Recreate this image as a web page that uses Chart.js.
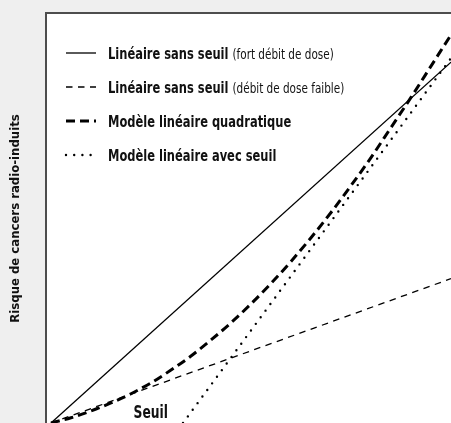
<!DOCTYPE html>
<html>
<head>
<meta charset="utf-8">
<script src="https://cdn.jsdelivr.net/npm/chart.js@4.4.1/dist/chart.umd.min.js"></script>
<style>
  html, body { margin: 0; padding: 0; background: #efefef; }
  #wrap { width: 451px; height: 423px; position: relative; }
</style>
</head>
<body>
<div id="wrap"><canvas id="c" width="451" height="423"></canvas></div>
<script>
// Dose (arbitrary units) and radio-induced cancer risk for each model
const doseLine = [0, 10];
const riskHighRate = [0, 9.0];
const riskLowRate = [0, 3.6];
const doseCurve = [0, 0.5, 1, 1.5, 2, 2.5, 3, 3.5, 4, 4.5, 5, 5.5, 6, 6.5, 7, 7.5, 8, 8.5, 9, 9.5, 10];
const riskLinearQuadratic = [0, 0.13, 0.30, 0.50, 0.73, 1.00, 1.32, 1.67, 2.07, 2.50, 2.97, 3.48, 4.03, 4.62, 5.25, 5.92, 6.62, 7.37, 8.12, 8.90, 9.68];
const doseThreshold = [3.3, 10];
const riskThreshold = [0, 9.1];

// Texts
const seriesNames = ['Linéaire sans seuil', 'Linéaire sans seuil', 'Modèle linéaire quadratique', 'Modèle linéaire avec seuil'];
const seriesNotes = ['(fort débit de dose)', '(débit de dose faible)', '', ''];
const yTitle = 'Risque de cancers radio-induits';
const thresholdLabel = 'Seuil';

const FAMILY = '"DejaVu Sans Condensed", "Liberation Sans Narrow", sans-serif';

const toPoints = (xs, ys) => xs.map((x, i) => ({ x: x, y: ys[i] }));

// Condensed text: draw with a horizontal squeeze, returns drawn width
function squeezedText(ctx, text, x, y, font, sx, align) {
  ctx.save();
  ctx.font = font;
  const w = ctx.measureText(text).width * sx;
  const x0 = align === 'right' ? x - w : x;
  ctx.translate(x0, y);
  ctx.scale(sx, 1);
  ctx.textAlign = 'left';
  ctx.fillText(text, 0, 0);
  ctx.restore();
  return w;
}

// White plotting area with a dark frame on its left and top edges
const framePlugin = {
  id: 'frame',
  beforeDraw(chart) {
    const { ctx, chartArea: a } = chart;
    ctx.save();
    ctx.fillStyle = '#ffffff';
    ctx.fillRect(a.left - 2, a.top - 2, a.right - a.left + 2, a.bottom - a.top + 2);
    ctx.fillStyle = '#4d4d4d';
    ctx.fillRect(a.left - 2, a.top - 2, 2, a.bottom - a.top + 2);
    ctx.fillRect(a.left - 2, a.top - 2, a.right - a.left + 2, 2);
    ctx.restore();
  }
};

// Legend with a bold model name followed by a plain note, plus the "Seuil" marker
const legendPlugin = {
  id: 'modelLegend',
  afterDatasetsDraw(chart, args, opts) {
    const { ctx } = chart;
    ctx.save();
    ctx.fillStyle = '#111';
    ctx.textBaseline = 'alphabetic';
    chart.data.datasets.forEach((ds, i) => {
      const yc = opts.top + i * opts.spacing;
      ctx.beginPath();
      ctx.setLineDash(ds.borderDash || []);
      ctx.lineWidth = ds.borderWidth;
      ctx.lineCap = ds.borderCapStyle || 'butt';
      ctx.strokeStyle = ds.borderColor;
      ctx.moveTo(opts.sampleLeft, yc);
      ctx.lineTo(opts.sampleRight, yc);
      ctx.stroke();
      ctx.setLineDash([]);
      const w = squeezedText(ctx, seriesNames[i], opts.textLeft, yc + 5.5, 'bold 15px ' + FAMILY, 0.85);
      if (seriesNotes[i]) {
        squeezedText(ctx, seriesNotes[i], opts.textLeft + w + 4, yc + 5.5, '14px ' + FAMILY, 0.83);
      }
    });
    const xs = chart.scales.x;
    squeezedText(ctx, thresholdLabel, xs.getPixelForValue(doseThreshold[0]) - 15, chart.chartArea.bottom - 5,
      'bold 18px ' + FAMILY, 0.76, 'right');
    ctx.restore();
  }
};

new Chart(document.getElementById('c'), {
  type: 'line',
  data: {
    datasets: [
      {
        label: seriesNames[0] + ' ' + seriesNotes[0],
        data: toPoints(doseLine, riskHighRate),
        borderColor: '#000', borderWidth: 1.3, pointRadius: 0
      },
      {
        label: seriesNames[1] + ' ' + seriesNotes[1],
        data: toPoints(doseLine, riskLowRate),
        borderColor: '#000', borderWidth: 1.3, borderDash: [6.5, 5.5], pointRadius: 0
      },
      {
        label: seriesNames[2],
        data: toPoints(doseCurve, riskLinearQuadratic),
        borderColor: '#000', borderWidth: 3, borderDash: [9, 5], pointRadius: 0,
        cubicInterpolationMode: 'monotone'
      },
      {
        label: seriesNames[3],
        data: toPoints(doseThreshold, riskThreshold),
        borderColor: '#000', borderWidth: 2.4, borderDash: [0, 8.2], borderCapStyle: 'round', pointRadius: 0
      }
    ]
  },
  options: {
    responsive: false,
    animation: false,
    devicePixelRatio: 1,
    layout: { padding: { left: 0, top: 14, right: 0, bottom: 0 } },
    plugins: {
      legend: { display: false },
      tooltip: { enabled: false },
      modelLegend: { top: 53, spacing: 34, sampleLeft: 66, sampleRight: 96, textLeft: 108 }
    },
    scales: {
      x: { type: 'linear', min: -0.1, max: 10, display: false },
      y: {
        type: 'linear', min: 0, max: 10.2,
        ticks: { display: false },
        grid: { display: false },
        border: { display: false },
        title: {
          display: true, text: yTitle, color: '#111',
          font: { family: FAMILY, size: 13, weight: 'bold', lineHeight: 1.2 },
          padding: { top: 8.2, bottom: 15.2 }
        }
      }
    }
  },
  plugins: [framePlugin, legendPlugin]
});
</script>
</body>
</html>
